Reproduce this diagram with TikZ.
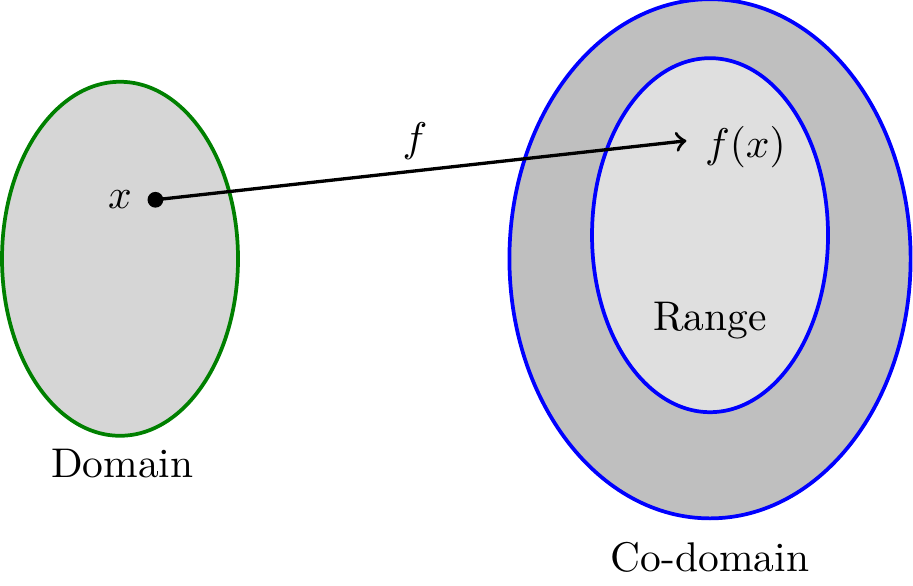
\documentclass[tikz,border=0pt]{standalone}
\usetikzlibrary{shapes.geometric}
\definecolor{domfill}{gray}{0.84}
\definecolor{codfill}{gray}{0.75}
\definecolor{rangefill}{gray}{0.875}
\definecolor{domline}{rgb}{0,0.5,0}
\tikzset{
  setshape/.style={ellipse, line width=0.9pt, inner sep=0pt, outer sep=0pt},
  mapline/.style={line width=0.8pt, ->},
}
\begin{document}
\begin{tikzpicture}
\useasboundingbox (-1.017,-2.765) rectangle (6.720,2.193);
\node[setshape, draw=domline, fill=domfill, minimum width=2cm, minimum height=3cm] (domain) at (0,0) {};
\node[setshape, draw=blue, fill=codfill, minimum width=3.4cm, minimum height=4.4cm] (codomain) at (5,0) {};
\node[setshape, draw=blue, fill=rangefill, minimum width=2cm, minimum height=3cm] (range) at (5,0.2) {};
\fill (0.3,0.5) circle (1.9pt);
\coordinate (xpt) at (0.3,0.5);
\coordinate (fxpt) at (4.8,1);
\draw[mapline] (xpt) -- (fxpt);
\node (xlab) at (0,0.5) {$x$};
\node (flab) at (2.5,1) {$f$};
\node (fxlab) at (5.3,0.95) {$f(x)$};
\node (rangelab) at (5,-0.52) {Range};
\node (domlab) at (0.02,-1.737) {Domain};
\node (codlab) at (5,-2.53) {Co-domain};
\end{tikzpicture}
\end{document}
